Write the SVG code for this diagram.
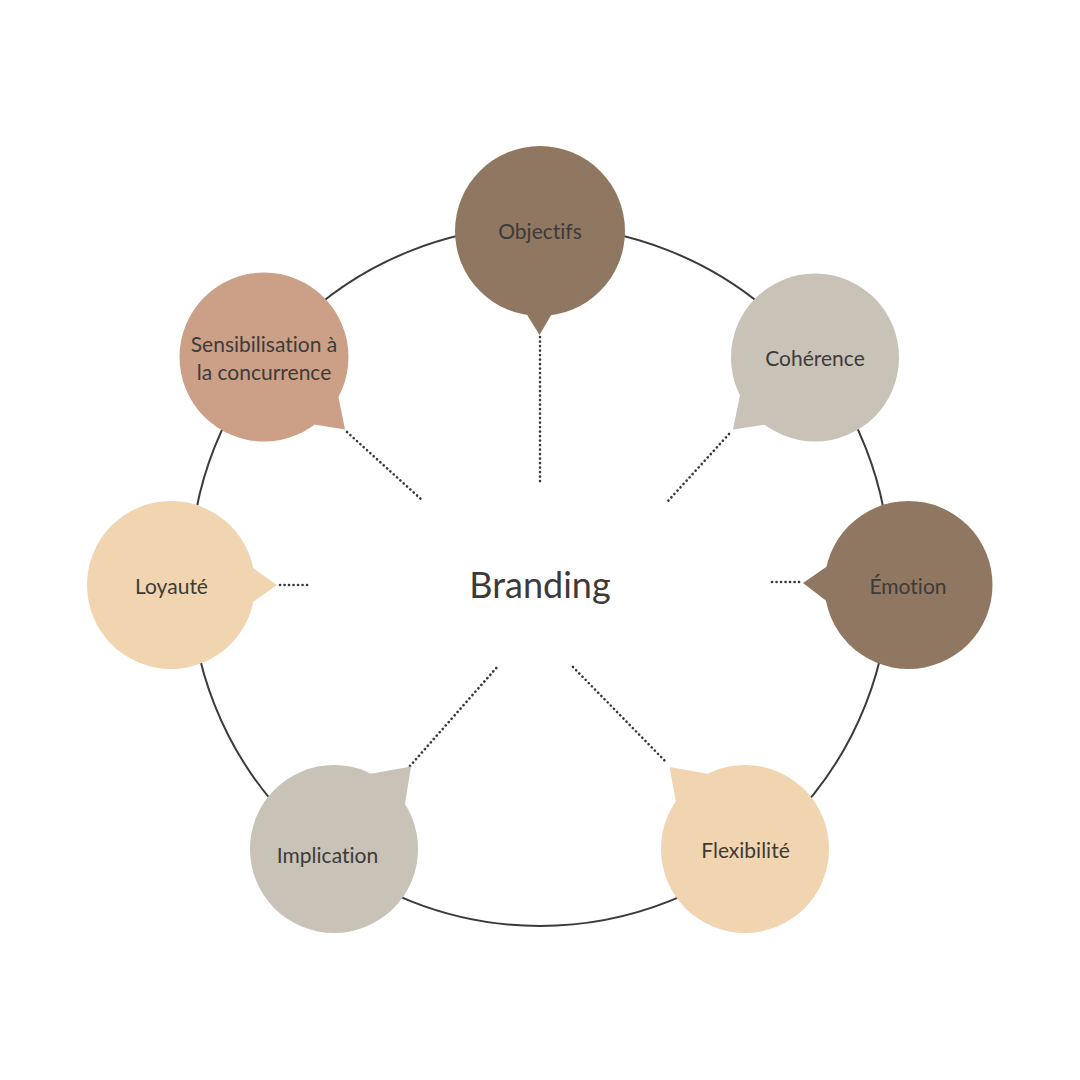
<svg xmlns="http://www.w3.org/2000/svg" width="1080" height="1080" viewBox="0 0 1080 1080">
<style>
.lbl{font-family:Lato,"Open Sans","Liberation Sans",sans-serif;font-size:21px;fill:#3d3b39;text-anchor:middle;font-variant-ligatures:none}
.title{font-family:Lato,"Open Sans","Liberation Sans",sans-serif;font-size:36px;fill:#3d3b39;text-anchor:middle;font-variant-ligatures:none}
.dot{fill:none;stroke:#3a3836;stroke-width:2.6;stroke-linecap:round;stroke-dasharray:0.1 4.4}
.brown{fill:#8f7761}.rose{fill:#cba087}.grey{fill:#c8c2b7}.sand{fill:#f0d5b0}
</style>
<rect width="1080" height="1080" fill="#ffffff"/>
<circle cx="540" cy="576" r="350" fill="none" stroke="#3a3a3a" stroke-width="2"/>
<g id="connectors">
<line class="dot" x1="540" y1="337" x2="540" y2="483"/>
<line class="dot" x1="347" y1="432" x2="422" y2="500"/>
<line class="dot" x1="729" y1="434" x2="668" y2="501"/>
<line class="dot" x1="280" y1="585" x2="310" y2="585"/>
<line class="dot" x1="772" y1="582" x2="802" y2="582"/>
<line class="dot" x1="410" y1="766" x2="498" y2="666"/>
<line class="dot" x1="573" y1="667" x2="667" y2="763"/>
</g>
<text class="title" x="540" y="598">Branding</text>
<g id="objectifs">
<circle class="brown" cx="540" cy="231" r="85"/>
<polygon class="brown" points="521,305 539.5,335 557,305"/>
<text class="lbl" x="540" y="239">Objectifs</text>
</g>
<g id="sensibilisation">
<circle class="rose" cx="264" cy="357" r="84.5"/>
<polygon class="rose" points="336,385 345,429.5 305,423"/>
<text class="lbl" x="264" y="352">Sensibilisation à</text>
<text class="lbl" x="264" y="380">la concurrence</text>
</g>
<g id="coherence">
<circle class="grey" cx="815" cy="357.5" r="84"/>
<polygon class="grey" points="742,385 733,429.5 775,423"/>
<text class="lbl" x="815" y="366">Cohérence</text>
</g>
<g id="loyaute">
<circle class="sand" cx="171" cy="585" r="84"/>
<polygon class="sand" points="250,566 277,585 250,604"/>
<text class="lbl" x="171.5" y="594">Loyauté</text>
</g>
<g id="emotion">
<circle class="brown" cx="908.5" cy="585" r="84"/>
<polygon class="brown" points="829,565 803,583 829,603"/>
<text class="lbl" x="908" y="594">Émotion</text>
</g>
<g id="implication">
<circle class="grey" cx="334" cy="849" r="84"/>
<polygon class="grey" points="364,775 411,766.5 404,810"/>
<text class="lbl" x="327.5" y="862.5">Implication</text>
</g>
<g id="flexibilite">
<circle class="sand" cx="745" cy="849" r="84"/>
<polygon class="sand" points="715,775 669.5,767 677,808"/>
<text class="lbl" x="745.5" y="858">Flexibilité</text>
</g>
</svg>
